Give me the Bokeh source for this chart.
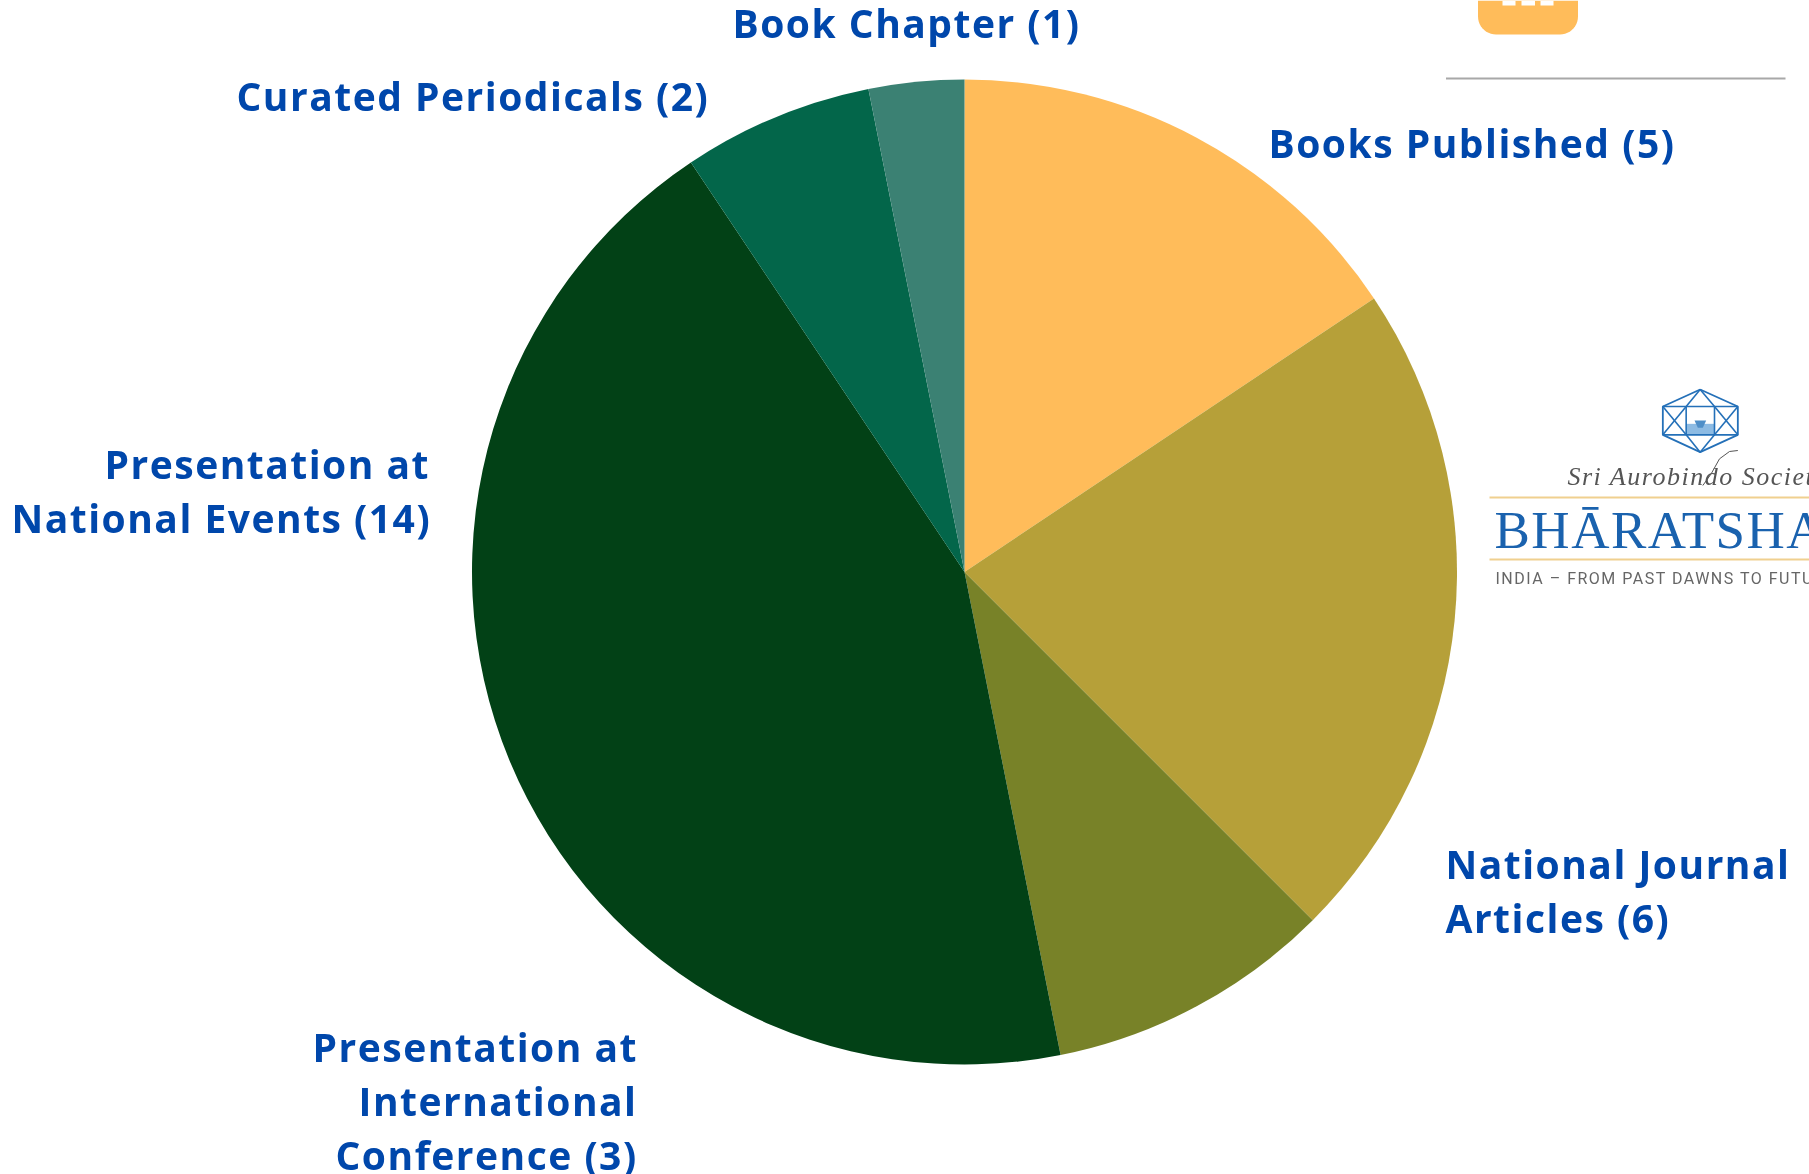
import numpy as np
from bokeh.plotting import figure
from bokeh.models import Range1d, ColumnDataSource
from bokeh.core.properties import value
from bokeh.embed import file_html
from bokeh.resources import INLINE

W, H = 1809, 1174

categories = ["Books Published", "National Journal Articles",
              "Presentation at International Conference",
              "Presentation at National Events", "Curated Periodicals", "Book Chapter"]
slice_values = [5, 7, 3, 14, 2, 1]
slice_colors = ["#FFBC5A", "#B6A039", "#788228", "#024116", "#03664A", "#3B8173"]

label_lines = ["Book Chapter (1)", "Curated Periodicals (2)", "Books Published (5)",
               "National Journal", "Articles (6)", "Presentation at", "National Events (14)",
               "Presentation at", "International", "Conference (3)"]
label_x = [732, 236, 1268, 1445, 1445, 104, 11, 312, 358, 335]
label_base = [38, 111, 158, 879, 933, 479, 533, 1062, 1116, 1170]

CX, CY, R = 964.0, 571.5, 492.5
LABEL_SHIFT = 16
LOGO_SHIFT = (11, 18, 5)


def Y(v):
    return H - np.asarray(v, dtype=float)


p = figure(width=W, height=H, x_range=Range1d(0, W), y_range=Range1d(0, H),
           output_backend="svg", toolbar_location=None, min_border=0)
p.axis.visible = False
p.grid.visible = False
p.outline_line_color = None
p.background_fill_color = "#FFFFFF"
p.styles = {"position": "fixed", "left": "0px", "top": "0px", "letter-spacing": "1.5px"}

# pie
vals = np.array(slice_values, dtype=float)
fr = np.concatenate([[0], np.cumsum(vals) / vals.sum()])
src = ColumnDataSource(dict(category=categories,
                            start=np.pi / 2 - 2 * np.pi * fr[:-1],
                            end=np.pi / 2 - 2 * np.pi * fr[1:],
                            color=slice_colors))
p.wedge(x=CX, y=float(Y(CY)), radius=R, start_angle="start", end_angle="end",
        direction="clock", fill_color="color", line_color=None, source=src)

# labels
src_l = ColumnDataSource(dict(x=label_x, y=Y(np.array(label_base) - LABEL_SHIFT), t=label_lines))
p.text(x="x", y="y", text="t", text_align="left", text_baseline="alphabetic",
       text_font=value("Open Sans"), text_font_style="bold", text_font_size="39px",
       text_color="#0047AB", source=src_l)

# top-right button fragment and rule
r = 18
th = np.linspace(0, np.pi / 2, 12)
bx = np.concatenate([[1477.5], 1477.5 + r - r * np.cos(th), 1577.5 - r + r * np.sin(th), [1577.5]])
by = np.concatenate([[0], 34 - r + r * np.sin(th), 34 - r + r * np.cos(th), [0]])
p.patch(bx, Y(by), fill_color="#FFBC5A", line_color=None)
p.quad(left=[1502, 1521, 1540], right=[1515, 1534.5, 1553], top=[float(Y(0))] * 3,
       bottom=[float(Y(5))] * 3, fill_color="#FFFFFF", line_color=None)
p.segment(1445.5, float(Y(78)), 1785, float(Y(78)), line_color="#A8A8A8", line_width=2)

# logo emblem
ex = lambda z: 1469 + np.asarray(z, dtype=float) / 3
ey = lambda z: Y(370 + np.asarray(z, dtype=float) / 3)
blue = "#2470B8"
p.quad(left=ex(650), right=ex(735), top=ey(160), bottom=ey(193), fill_color="#8DBBE3", line_color=None)
p.patch(ex([675, 710, 700, 685]), ey([150, 150, 172, 172]), fill_color="#4F8FC8", line_color=None)
hx, hy = [692, 805, 805, 692, 580, 580, 692], [57, 108, 193, 245, 193, 108, 57]
p.line(ex(hx), ey(hy), line_color=blue, line_width=1.8)
segs = [(580, 108, 805, 108), (580, 193, 805, 193), (650, 108, 650, 193), (735, 108, 735, 193),
        (692, 57, 650, 108), (692, 57, 735, 108), (692, 245, 650, 193), (692, 245, 735, 193),
        (580, 108, 650, 193), (580, 193, 650, 108), (735, 108, 805, 193), (735, 193, 805, 108)]
for a, b, c, d in segs:
    p.segment(float(ex(a)), float(ey(b)), float(ex(c)), float(ey(d)), line_color=blue, line_width=1.6)

# logo rules, flourish and texts
for yy in (497, 559):
    p.segment(1489, float(Y(yy)), W, float(Y(yy)), line_color="#F0D08F", line_width=2)
p.line(ex([700, 725, 750, 780, 805]), ey([345, 310, 265, 243, 240]), line_color="#555555", line_width=1)
p.text(x=[1567], y=Y([487 - LOGO_SHIFT[0]]), text=["Sri Aurobindo Society"], text_font=value("Liberation Serif"),
       text_font_style="italic", text_font_size="26px", text_color="#555555", text_baseline="alphabetic")
p.text(x=[1494], y=Y([547 - LOGO_SHIFT[1]]), text=["BHĀRATSHA"], text_font=value("Liberation Serif"),
       text_font_size="53px", text_color="#1A62AE", text_baseline="alphabetic")
p.text(x=[1495], y=Y([583 - LOGO_SHIFT[2]]), text=["INDIA – FROM PAST DAWNS TO FUTU"],
       text_font=value("Roboto"),
       text_font_size="16px", text_color="#666666", text_baseline="alphabetic")

open("out.html", "w").write(file_html(p, INLINE))
